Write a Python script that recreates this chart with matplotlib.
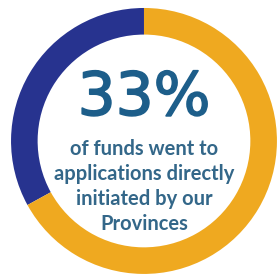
import matplotlib
matplotlib.use("Agg")
import matplotlib.pyplot as plt
import matplotlib.patheffects as pe

# share of funds
labels = ["Provinces", "Other"]
values = [33, 67]
colours = ["#27338f", "#efa920"]

headline = "33%"
caption = ["of funds went to", "applications directly", "initiated by our", "Provinces"]

fig = plt.figure(figsize=(2.78, 2.75), dpi=100)
ax = fig.add_axes([0, 0, 1, 1])

ax.pie(values, colors=colours, startangle=90, counterclock=True,
       radius=1.0, wedgeprops=dict(width=0.2, linewidth=0))

ax.set_xlim(-1.083, 1.008)
ax.set_ylim(-1.008, 1.060)
ax.set_aspect("auto")
ax.axis("off")

# big number, stroked a little so it looks heavier
ax.text(0.0, 0.195, headline, ha="center", va="baseline", fontsize=43,
        family="DejaVu Sans", color="#1d5e8a",
        path_effects=[pe.withStroke(linewidth=1.2, foreground="#1d5e8a")])

y = -0.105
for line in caption:
    ax.text(0.0, y, line, ha="center", va="baseline", fontsize=14.5,
            family="Lato", fontweight="bold", color="#336789")
    y -= 0.188

fig.savefig("out.png", dpi=100)
